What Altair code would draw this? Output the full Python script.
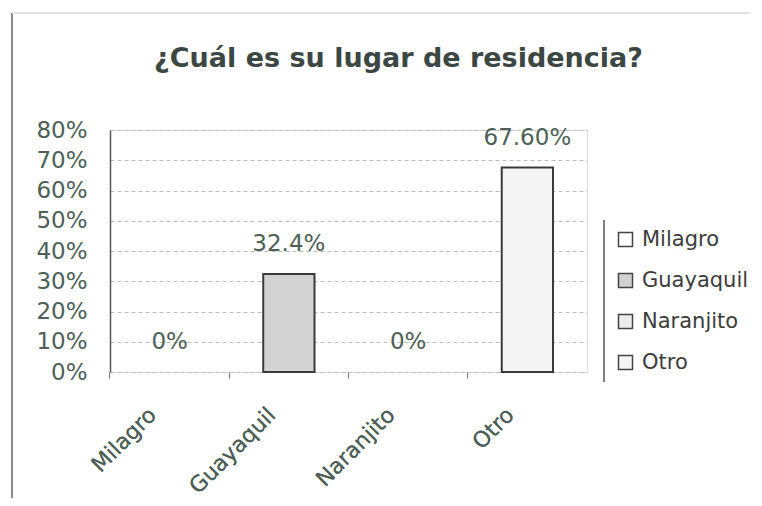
import altair as alt
import pandas as pd

categories = ["Milagro", "Guayaquil", "Naranjito", "Otro"]
values = [0.0, 0.324, 0.0, 0.676]
labels = ["0%", "32.4%", "0%", "67.60%"]
fills = ["#ffffff", "#d2d2d2", "#ececec", "#f4f4f4"]
y_ticks = [0, 0.1, 0.2, 0.3, 0.4, 0.5, 0.6, 0.7, 0.8]

df = pd.DataFrame({"cat": categories, "v": values, "lab": labels})

FONT = "DejaVu Sans"
GREEN = "#4d5f57"

xscale = alt.Scale(domain=categories, paddingInner=0.57, paddingOuter=0.285)
yscale = alt.Scale(domain=[0, 0.8], nice=False)

x_axis = alt.Axis(orient="bottom", labelAngle=315, labelFontSize=22, labelFont=FONT,
                  labelColor=GREEN, ticks=False, domain=False, grid=False,
                  labelPadding=32, labelOffset=-24)
y_axis = alt.Axis(values=y_ticks, format=".0%", labelFontSize=23, labelFont=FONT,
                  labelColor=GREEN, ticks=False, labelPadding=23, labelOverlap=False,
                  domainColor="#555", domainWidth=1.5,
                  grid=True, gridColor="#bdbdbd", gridDash=[4, 3], gridWidth=1)
tick_axis = alt.Axis(orient="bottom", labels=False, ticks=True, tickSize=6,
                     tickColor="#777", bandPosition=-0.663, domain=False, grid=False)

base = alt.Chart(df)

bars = base.mark_bar(strokeWidth=2).encode(
    x=alt.X("cat:N", scale=xscale, sort=categories, title=None, axis=x_axis),
    y=alt.Y("v:Q", scale=yscale, title=None, axis=y_axis),
    color=alt.Color("cat:N", sort=categories,
                    scale=alt.Scale(domain=categories, range=fills),
                    legend=alt.Legend(title=None, orient="none", legendX=505, legendY=99,
                                      symbolType="square", symbolSize=196,
                                      symbolStrokeColor="#444", symbolStrokeWidth=1.5,
                                      labelFont=FONT, labelFontSize=21, labelColor="#3c3c3c",
                                      rowPadding=19, labelOffset=6, padding=0)),
    stroke=alt.condition("datum.v > 0", alt.value("#3a3a3a"), alt.value("transparent")),
)

texts = base.mark_text(font=FONT, fontSize=23, color=GREEN, baseline="middle", dy=-30).encode(
    x=alt.X("cat:N", scale=xscale, sort=categories, title=None, axis=x_axis),
    y=alt.Y("v:Q", scale=yscale, title=None, axis=y_axis),
    text="lab:N",
)

tickmarks = base.mark_point(opacity=0).encode(
    x=alt.X("cat:N", scale=xscale, sort=categories, title=None, axis=tick_axis),
    y=alt.Y("v:Q", scale=yscale, title=None, axis=y_axis),
)

legend_line = alt.Chart(df).mark_rule(color="#777", strokeWidth=1).encode(
    x=alt.value(494), y=alt.value(90), y2=alt.value(252)
)
left_border = alt.Chart(df).mark_rule(color="#888", strokeWidth=1.2).encode(
    x=alt.value(-98), y=alt.value(-117), y2=alt.value(368)
)
top_border = alt.Chart(df).mark_rule(color="#e2e2e2", strokeWidth=1).encode(
    x=alt.value(-98), x2=alt.value(640), y=alt.value(-117)
)

chart = alt.layer(bars, tickmarks, texts, legend_line, left_border, top_border).resolve_axis(
    x="independent"
).properties(
    width=477,
    height=242,
    autosize=alt.AutoSizeParams(type="none"),
    padding={"left": 102, "top": 122, "right": 167, "bottom": 126},
    title=alt.TitleParams("¿Cuál es su lugar de residencia?", font=FONT, fontSize=27,
                          fontWeight="bold", color="#3b4743", anchor="middle", offset=-61,
                          dx=50),
).configure_view(stroke="#b0b0b0", strokeWidth=1).configure(background="white")

chart.save("out.html", embed_options={"renderer": "svg", "actions": False})
